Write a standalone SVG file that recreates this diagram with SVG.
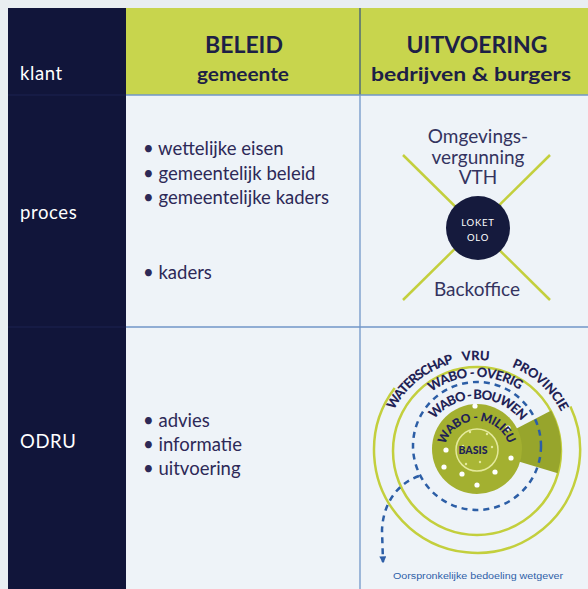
<svg xmlns="http://www.w3.org/2000/svg" width="588" height="589" viewBox="0 0 588 589">
<style>
.lbl{font-family:Lato,"Liberation Sans",sans-serif;font-size:18.5px;fill:#ffffff;letter-spacing:0.6px}
.hd1{font-family:Lato,"Liberation Sans",sans-serif;font-weight:700;font-size:23px;fill:#1d2046;text-anchor:middle}
.hd2{font-family:Lato,"Liberation Sans",sans-serif;font-weight:700;font-size:18.5px;fill:#1d2046;text-anchor:middle}
.body{font-family:Lato,"Liberation Sans",sans-serif;font-size:18.5px;fill:#2d2957}
.big{font-family:Lato,"Liberation Sans",sans-serif;font-size:19px;fill:#34335f;text-anchor:middle}
.loket{font-family:Lato,"Liberation Sans",sans-serif;font-size:9.5px;fill:#ffffff;text-anchor:middle;letter-spacing:0.8px}
.arc{font-family:Lato,"Liberation Sans",sans-serif;font-weight:900;font-size:13px;fill:#1f2255;text-anchor:middle}
.grid{stroke:#7196c8;stroke-width:1.3;fill:none}
.yl{stroke:#c3cf3d;fill:none}
</style>
<defs>
<path id="a94" d="M383,454 A94,94 0 0 1 571,454"/>
<path id="a77" d="M400,454 A77,77 0 0 1 554,454"/>
<path id="a55" d="M422,454 A55,55 0 0 1 532,454"/>
<path id="a33" d="M444,454 A33,33 0 0 1 510,454"/>
<marker id="ah" viewBox="0 0 10 10" refX="8" refY="5" markerWidth="7" markerHeight="7" orient="auto" markerUnits="userSpaceOnUse">
<path d="M0,0 L10,5 L0,10 Z" fill="#2f5fa8"/>
</marker>
</defs>
<rect width="588" height="589" fill="#e9eef1"/>
<rect x="126" y="95" width="462" height="494" fill="#eef3f8"/>
<g id="col-dark">
<rect x="8" y="8" width="118" height="581" fill="#11153a"/>
<line x1="8" y1="95" x2="126" y2="95" stroke="#1d2350" stroke-width="1"/>
<line x1="8" y1="327" x2="126" y2="327" stroke="#1d2350" stroke-width="1"/>
<text class="lbl" x="20" y="80">klant</text>
<text class="lbl" x="20" y="219">proces</text>
<text class="lbl" x="20" y="448">ODRU</text>
</g>
<g id="header">
<rect x="126" y="8" width="462" height="87" fill="#c8d54d"/>
<line x1="360" y1="8" x2="360" y2="95" stroke="#3d5a7d" stroke-width="1.3"/>
<text class="hd1" x="244" y="53">BELEID</text>
<text class="hd2" x="243" y="81" textLength="92" lengthAdjust="spacingAndGlyphs">gemeente</text>
<text class="hd1" x="477" y="53">UITVOERING</text>
<text class="hd2" x="471" y="81" textLength="200" lengthAdjust="spacingAndGlyphs">bedrijven &amp; burgers</text>
</g>
<g id="grid">
<line class="grid" x1="126" y1="95" x2="588" y2="95"/>
<line class="grid" x1="126" y1="327" x2="588" y2="327"/>
<line class="grid" x1="360" y1="95" x2="360" y2="589"/>
</g>
<g id="beleid-proces">
<text class="body" x="143" y="155">• wettelijke eisen</text>
<text class="body" x="143" y="180">• gemeentelijk beleid</text>
<text class="body" x="143" y="204">• gemeentelijke kaders</text>
<text class="body" x="143" y="279">• kaders</text>
</g>
<g id="beleid-odru">
<text class="body" x="143" y="427">• advies</text>
<text class="body" x="143" y="451">• informatie</text>
<text class="body" x="143" y="475">• uitvoering</text>
</g>
<g id="uitvoering-proces">
<line class="yl" x1="403" y1="155" x2="550" y2="300" stroke-width="2.5"/>
<line class="yl" x1="550" y1="155" x2="403" y2="300" stroke-width="2.5"/>
<text class="big" x="478" y="143">Omgevings-</text>
<text class="big" x="478" y="164">vergunning</text>
<text class="big" x="478" y="184">VTH</text>
<text class="big" x="477" y="296">Backoffice</text>
<g id="loket">
<circle cx="478" cy="228" r="32" fill="#151a3d"/>
<text class="loket" x="478" y="226">LOKET</text>
<text class="loket" x="478" y="241">OLO</text>
</g>
</g>
<g id="uitvoering-odru">
<path class="yl" stroke-width="2.5" d="M570.4,406.5 A103,103 0 1 1 394.7,388"/>
<circle class="yl" stroke-width="2.5" cx="477" cy="451" r="84"/>
<path d="M477,449 L551.2,410.6 A84,84 0 0 1 557.7,473.2 Z" fill="#97a52c"/>
<circle cx="477" cy="449" r="45" fill="#a3b030"/>
<circle cx="477" cy="450" r="21" fill="#a9b635" stroke="#e4e99c" stroke-width="1.5"/>
<g fill="#ffffff">
<circle cx="475" cy="406" r="2.6"/>
<circle cx="446" cy="450" r="2.6"/>
<circle cx="444" cy="467" r="2.6"/>
<circle cx="462" cy="474" r="2.6"/>
<circle cx="477" cy="485" r="2.6"/>
<circle cx="495" cy="472" r="2.6"/>
<circle cx="511" cy="458" r="2.6"/>
<circle cx="508" cy="428" r="2.6"/>
</g>
<g fill="#e4e99c">
<circle cx="470" cy="432" r="1.2"/>
<circle cx="487" cy="434" r="1.2"/>
<circle cx="463" cy="446" r="1.2"/>
<circle cx="492" cy="447" r="1.2"/>
<circle cx="480" cy="462" r="1.2"/>
<circle cx="466" cy="464" r="1.2"/>
</g>
<circle cx="477" cy="446" r="64" fill="none" stroke="#2c5ea6" stroke-width="2.5" stroke-dasharray="6 5"/>
<text class="arc"><textPath href="#a94" startOffset="84.5" textLength="78">WATERSCHAP</textPath></text>
<text class="arc"><textPath href="#a94" startOffset="146">VRU</textPath></text>
<text class="arc"><textPath href="#a94" startOffset="217" textLength="68">PROVINCIE</textPath></text>
<text class="arc"><textPath href="#a77" startOffset="119" textLength="94">WABO - OVERIG</textPath></text>
<text class="arc"><textPath href="#a55" startOffset="87.4" textLength="100">WABO - BOUWEN</textPath></text>
<text class="arc" style="font-size:12px"><textPath href="#a33" startOffset="51.3" textLength="84">WABO - MILIEU</textPath></text>
<text x="473" y="454" style="font-family:Lato,'Liberation Sans',sans-serif;font-weight:900;font-size:10.5px;fill:#1f2255;text-anchor:middle">BASIS</text>
</g>
<g id="connectors">
<path d="M419,476 C396,484 383,505 382,530 L383,562" fill="none" stroke="#2c5ea6" stroke-width="2.5" stroke-dasharray="6 5" marker-end="url(#ah)"/>
</g>
<text x="393" y="579" textLength="170" lengthAdjust="spacingAndGlyphs" style="font-family:'Liberation Sans',sans-serif;font-size:8.5px;fill:#2f5fa8">Oorspronkelijke bedoeling wetgever</text>
</svg>
